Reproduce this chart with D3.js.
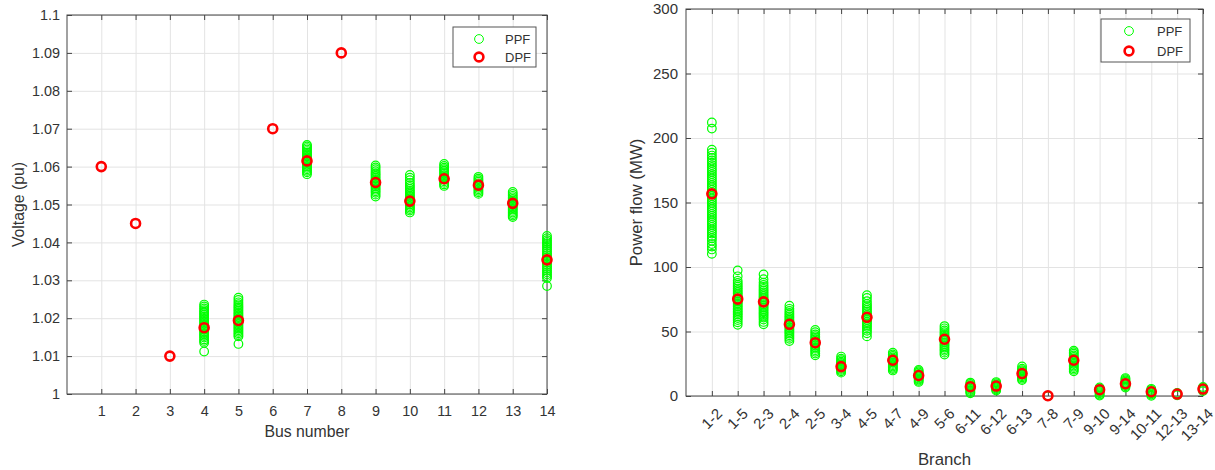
<!DOCTYPE html>
<html>
<head>
<meta charset="utf-8">
<script src="https://cdn.jsdelivr.net/npm/d3@7"></script>
<style>
body{margin:0;background:#fff;}
svg{font-family:"Liberation Sans",Arial,sans-serif;}
.tick text{fill:#333;}
.grid line{stroke:#e3e3e3;}
.grid path{display:none;}
.ax path{display:none;}
.ax line{stroke:#444;}
</style>
</head>
<body>
<svg id="chart"></svg>
<script>
// ---- left plot : bus voltages ----
var buses=[1,2,3,4,5,6,7,8,9,10,11,12,13,14]
var dpfVoltage=[1.060,1.045,1.010,1.0175,1.0194,1.070,1.0615,1.090,1.0558,1.0509,1.0568,1.0551,1.0503,1.0354]
var voltTicks=[1,1.01,1.02,1.03,1.04,1.05,1.06,1.07,1.08,1.09,1.1]

var ppfV4=[1.0112,1.0135,1.0140,1.0144,1.0149,1.0153,1.0157,1.0161,1.0165,1.0169,1.0173,1.0177,1.0181,1.0185,1.0189,1.0193,1.0197,1.0201,1.0205,1.0209,1.0213,1.0217,1.0221,1.0226,1.0231,1.0236]
var ppfV5=[1.0132,1.0152,1.0156,1.0160,1.0164,1.0168,1.0172,1.0176,1.0180,1.0184,1.0188,1.0192,1.0196,1.0200,1.0204,1.0208,1.0212,1.0216,1.0220,1.0224,1.0228,1.0232,1.0237,1.0242,1.0248,1.0254]
var ppfV7=[1.0580,1.0585,1.0589,1.0593,1.0597,1.0601,1.0605,1.0609,1.0613,1.0617,1.0621,1.0625,1.0629,1.0633,1.0637,1.0641,1.0645,1.0649,1.0653,1.0657]
var ppfV9=[1.0521,1.0526,1.0531,1.0535,1.0539,1.0543,1.0547,1.0551,1.0555,1.0559,1.0563,1.0567,1.0571,1.0575,1.0579,1.0583,1.0588,1.0593,1.0598,1.0603]
var ppfV10=[1.0479,1.0484,1.0488,1.0492,1.0496,1.0500,1.0504,1.0508,1.0512,1.0516,1.0520,1.0524,1.0528,1.0532,1.0536,1.0541,1.0546,1.0551,1.0557,1.0564,1.0571,1.0578]
var ppfV11=[1.0549,1.0553,1.0557,1.0561,1.0565,1.0569,1.0573,1.0577,1.0581,1.0585,1.0589,1.0593,1.0597,1.0602,1.0607]
var ppfV12=[1.0528,1.0532,1.0536,1.0540,1.0544,1.0548,1.0552,1.0556,1.0560,1.0564,1.0568,1.0573]
var ppfV13=[1.0467,1.0471,1.0475,1.0479,1.0483,1.0487,1.0491,1.0495,1.0499,1.0503,1.0507,1.0511,1.0515,1.0519,1.0523,1.0528,1.0533]
var ppfV14=[1.0285,1.0306,1.0311,1.0316,1.0321,1.0326,1.0331,1.0336,1.0341,1.0346,1.0351,1.0356,1.0361,1.0366,1.0371,1.0376,1.0381,1.0386,1.0391,1.0396,1.0401,1.0406,1.0411,1.0417]

// ---- right plot : branch flows ----
var branches=["1-2","1-5","2-3","2-4","2-5","3-4","4-5","4-7","4-9","5-6","6-11","6-12","6-13","7-8","7-9","9-10","9-14","10-11","12-13","13-14"]
var dpfFlow=[156.7,75.1,73.0,55.6,41.3,22.8,61.0,27.7,15.9,44.0,7.2,7.7,17.4,0.2,27.7,4.9,9.5,3.3,1.5,5.4]
var flowTicks=[0,50,100,150,200,250,300]

var ppfF12=[110.2,113.6,115.9,117.8,120.4,122.3,124.0,125.9,127.6,129.2,131.0,132.7,134.5,136.1,137.9,139.6,141.2,143.0,144.8,146.3,148.1,149.8,151.5,153.2,154.9,156.6,158.3,160.0,161.8,163.4,165.1,166.9,168.6,170.3,172.0,173.8,175.5,177.3,179.0,180.8,182.6,184.5,186.4,188.6,190.9,207.3,212.0]
var ppfF15=[55.2,57.1,58.9,60.4,61.8,63.1,64.4,65.6,66.9,68.1,69.4,70.6,71.9,73.1,74.4,75.6,76.9,78.1,79.4,80.7,82.0,83.3,84.7,86.1,87.6,89.3,92.8,97.4]
var ppfF23=[55.6,57.4,59.3,60.8,62.2,63.5,64.8,66.1,67.4,68.6,69.9,71.1,72.4,73.7,75.0,76.3,77.6,78.9,80.2,81.6,83.0,84.5,86.1,87.9,90.6,94.3]
var ppfF24=[42.6,44.3,45.8,47.1,48.4,49.6,50.8,52.0,53.2,54.4,55.6,56.8,58.0,59.2,60.4,61.7,63.0,64.4,65.9,67.6,70.0]
var ppfF25=[31.5,33.0,34.3,35.5,36.7,37.9,39.1,40.3,41.5,42.7,43.9,45.1,46.4,47.8,49.4,51.2]
var ppfF34=[18.1,19.2,20.2,21.1,22.0,22.9,23.8,24.7,25.6,26.6,27.7,28.9,30.6]
var ppfF45=[46.2,48.6,50.5,52.1,53.6,55.0,56.3,57.6,58.9,60.2,61.5,62.8,64.1,65.4,66.8,68.2,69.7,71.4,73.5,76.0,78.1]
var ppfF47=[19.8,20.9,21.9,22.9,23.9,24.9,25.9,26.9,27.9,28.9,29.9,31.0,32.2,33.6]
var ppfF49=[10.9,11.8,12.7,13.6,14.5,15.4,16.3,17.2,18.2,19.2,20.2]
var ppfF56=[32.1,33.6,35.0,36.3,37.6,38.9,40.2,41.5,42.8,44.1,45.4,46.7,48.0,49.4,50.9,52.5,54.2]
var ppfF611=[2.1,3.0,3.9,4.8,5.7,6.6,7.5,8.4,9.4,10.4]
var ppfF612=[4.2,5.0,5.8,6.6,7.4,8.2,9.0,9.9,10.8]
var ppfF613=[12.4,13.4,14.4,15.3,16.2,17.1,18.0,19.0,20.0,21.2,22.9]
var ppfF78=[0,0.1,0.3]
var ppfF79=[19.2,20.4,21.5,22.6,23.7,24.8,25.9,27.0,28.1,29.2,30.3,31.5,32.8,34.0,35.2]
var ppfF910=[0.3,1.2,2.1,3.0,3.9,4.8,5.7,6.6]
var ppfF914=[6.6,7.5,8.4,9.3,10.2,11.1,12.0,13.0,13.9]
var ppfF1011=[0.2,1.1,2.0,2.9,3.8,4.7,5.6]
var ppfF1213=[0.6,1.2,1.8,2.4]
var ppfF1314=[3.8,4.6,5.4,6.2,7.0]

var ppfVoltage=[[],[],[],ppfV4,ppfV5,[],ppfV7,[],ppfV9,ppfV10,ppfV11,ppfV12,ppfV13,ppfV14]
var ppfFlow=[ppfF12,ppfF15,ppfF23,ppfF24,ppfF25,ppfF34,ppfF45,ppfF47,ppfF49,ppfF56,ppfF611,ppfF612,ppfF613,ppfF78,ppfF79,ppfF910,ppfF914,ppfF1011,ppfF1213,ppfF1314]

var green="#00ff00"
var red="#ff0000"

var svg=d3.select("#chart")
    .attr("width",1215)
    .attr("height",470)

// flatten cluster arrays into points
var toPoints=function(xs,lists)
    {
        var pts=[]
        lists.forEach(function(list,i)
            {
                list.forEach(function(v){pts.push({x:xs[i],y:v})})
            })
        return pts
    }

var drawPanel=function(p)
    {
        var w=p.right-p.left
        var h=p.bottom-p.top
        var g=svg.append("g")
            .attr("transform","translate("+p.left+","+p.top+")")

        var xScale=d3.scaleLinear().domain(p.xDomain).range([0,w])
        var yScale=d3.scaleLinear().domain(p.yDomain).range([h,0])

        // grid
        g.append("g").classed("grid",true)
            .attr("transform","translate(0,"+h+")")
            .call(d3.axisBottom(xScale).tickValues(p.xTicks).tickSize(-h).tickFormat(""))
        g.append("g").classed("grid",true)
            .call(d3.axisLeft(yScale).tickValues(p.yTicks).tickSize(-w).tickFormat(""))

        // axes with inward ticks
        var xAxis=g.append("g").classed("ax",true)
            .attr("transform","translate(0,"+h+")")
            .call(d3.axisBottom(xScale).tickValues(p.xTicks).tickSizeInner(-5).tickSizeOuter(0)
                .tickPadding(12).tickFormat(p.xFormat))
        xAxis.selectAll("text").style("font-size",p.tickFont+"px")
        if(p.rotate)
            {
                xAxis.selectAll("text")
                    .attr("y",0)
                    .attr("dy","0.35em")
                    .attr("transform","translate(7,15) rotate(-45)")
                    .style("text-anchor","end")
            }
        g.append("g").classed("ax",true)
            .call(d3.axisLeft(yScale).tickValues(p.yTicks).tickSizeInner(-5).tickSizeOuter(0)
                .tickPadding(p.yPad).tickFormat(p.yFormat))
            .selectAll("text").style("font-size",p.tickFont+"px")
        g.append("g").classed("ax",true)
            .call(d3.axisTop(xScale).tickValues(p.xTicks).tickSizeInner(-5).tickSizeOuter(0).tickFormat(""))
        g.append("g").classed("ax",true)
            .attr("transform","translate("+w+",0)")
            .call(d3.axisRight(yScale).tickValues(p.yTicks).tickSizeInner(-5).tickSizeOuter(0).tickFormat(""))

        g.append("rect")
            .attr("width",w).attr("height",h)
            .attr("fill","none").attr("stroke","#444").attr("stroke-width",1)

        // markers
        g.append("g").selectAll("circle")
            .data(p.ppf)
            .enter()
            .append("circle")
            .attr("cx",function(d){return xScale(d.x)})
            .attr("cy",function(d){return yScale(d.y)})
            .attr("r",4.3)
            .attr("fill","none")
            .attr("stroke",green)
            .attr("stroke-width",1.2)
        g.append("g").selectAll("circle")
            .data(p.dpf)
            .enter()
            .append("circle")
            .attr("cx",function(d){return xScale(d.x)})
            .attr("cy",function(d){return yScale(d.y)})
            .attr("r",4.5)
            .attr("fill","none")
            .attr("stroke",red)
            .attr("stroke-width",2.6)

        // labels
        svg.append("text")
            .text(p.xLabel)
            .attr("x",(p.left+p.right)/2)
            .attr("y",p.xLabelY)
            .attr("dy","0.35em")
            .attr("text-anchor","middle")
            .style("font-size",p.labelFont+"px")
            .attr("fill","#333")
        svg.append("text")
            .text(p.yLabel)
            .attr("transform","translate("+p.yLabelX+","+(p.top+p.bottom)/2+") rotate(-90)")
            .attr("dy","0.35em")
            .attr("text-anchor","middle")
            .style("font-size",p.labelFont+"px")
            .attr("fill","#333")

        // legend
        var lg=svg.append("g").attr("transform","translate("+p.legend.x+","+p.legend.y+")")
        lg.append("rect")
            .attr("width",p.legend.w).attr("height",p.legend.h)
            .attr("fill","#fff").attr("stroke","#555").attr("stroke-width",1)
        var items=[{name:"PPF",c:green,sw:1},{name:"DPF",c:red,sw:2.6}]
        items.forEach(function(it,i)
            {
                var yy=p.legend.row0+i*p.legend.step
                lg.append("circle")
                    .attr("cx",p.legend.mx).attr("cy",yy).attr("r",4.4)
                    .attr("fill","none").attr("stroke",it.c).attr("stroke-width",it.sw)
                lg.append("text")
                    .text(it.name)
                    .attr("x",p.legend.tx).attr("y",yy).attr("dy","0.35em")
                    .style("font-size","13px").attr("fill","#333")
            })
    }

drawPanel({
    left:67,right:547,top:15,bottom:394,
    xDomain:[0,14],yDomain:[1,1.1],
    xTicks:buses,yTicks:voltTicks,
    xFormat:function(d){return d},
    yFormat:function(d){return +d.toFixed(2)},
    tickFont:14.4,labelFont:15.8,yPad:7,
    xLabel:"Bus number",xLabelY:431,
    yLabel:"Voltage (pu)",yLabelX:18,
    ppf:toPoints(buses,ppfVoltage),
    dpf:buses.map(function(b,i){return {x:b,y:dpfVoltage[i]}}),
    legend:{x:453,y:27,w:83,h:40,mx:26,tx:52,row0:12,step:18}
})

var branchIdx=branches.map(function(b,i){return i+1})
drawPanel({
    left:686,right:1203,top:9,bottom:396,
    xDomain:[0,20],yDomain:[0,300],
    xTicks:branchIdx,yTicks:flowTicks,
    xFormat:function(d){return branches[d-1]},
    yFormat:function(d){return d},
    tickFont:15,labelFont:16.8,yPad:8,rotate:true,
    xLabel:"Branch",xLabelY:459,
    yLabel:"Power flow (MW)",yLabelX:636,
    ppf:toPoints(branchIdx,ppfFlow),
    dpf:branchIdx.map(function(b,i){return {x:b,y:dpfFlow[i]}}),
    legend:{x:1101,y:19,w:89,h:43,mx:28,tx:56,row0:12,step:20}
})
</script>
</body>
</html>
